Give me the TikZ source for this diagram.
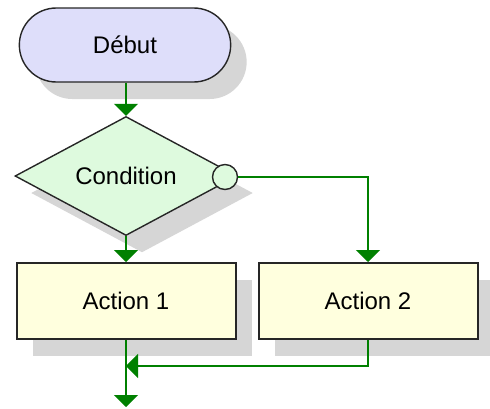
\documentclass[tikz,border=0pt]{standalone}
\usepackage{fontspec}
\setmainfont{Liberation Sans}
\usetikzlibrary{arrows.meta,shapes.geometric,shapes.misc,shadows}
\definecolor{startfill}{RGB}{222,222,250}
\definecolor{condfill}{RGB}{222,250,222}
\definecolor{actfill}{RGB}{255,255,222}
\definecolor{flowgreen}{RGB}{0,128,0}
\definecolor{shadowgray}{RGB}{214,214,214}
\tikzset{
	shade box/.style={drop shadow={shadow xshift=16pt,shadow yshift=-17pt,fill=shadowgray,opacity=1}},
	startbox/.style={rounded rectangle, draw=black!85, line width=1.4pt, fill=startfill,
			minimum width=218pt, minimum height=74pt, shade box},
	condbox/.style={diamond, draw=black!85, line width=1.4pt, fill=condfill,
			minimum width=222pt, minimum height=112pt, inner sep=0pt, shade box},
	actbox/.style={rectangle, draw=black!85, line width=2pt, fill=actfill,
			minimum width=219pt, minimum height=76pt, shade box},
	flow/.style={-{Triangle[width=24pt,length=12pt]}, draw=flowgreen, line width=1.9pt},
	every node/.append style={font=\fontsize{24}{28}\selectfont}
}

\begin{document}
\begin{tikzpicture}[x=1pt,y=-1pt]
	\useasboundingbox (0,0) rectangle (490,408);

	% blocks
	\node[startbox] (start) at (125,45) {Début};
	\node[condbox] (cond) at (126,176) {Condition};
	\node[circle, draw=black!85, line width=1.4pt, fill=condfill, minimum size=25pt, inner sep=0pt] (yes) at (225,177) {};
	\node[actbox] (act1) at (126,301) {Action 1};
	\node[actbox] (act2) at (368,301) {Action 2};

	% exits
	\coordinate (join) at (126,366);
	\coordinate (end) at (126,407);

	% flow
	\draw[flow] (start.south -| cond.north) -- (cond);
	\draw[flow] (cond) -- (act1);
	\draw[flow] (yes) -| (act2);
	\draw[flow] (act2) |- (join);
	\draw[flow] (act1) -- (end);
\end{tikzpicture}
\end{document}
